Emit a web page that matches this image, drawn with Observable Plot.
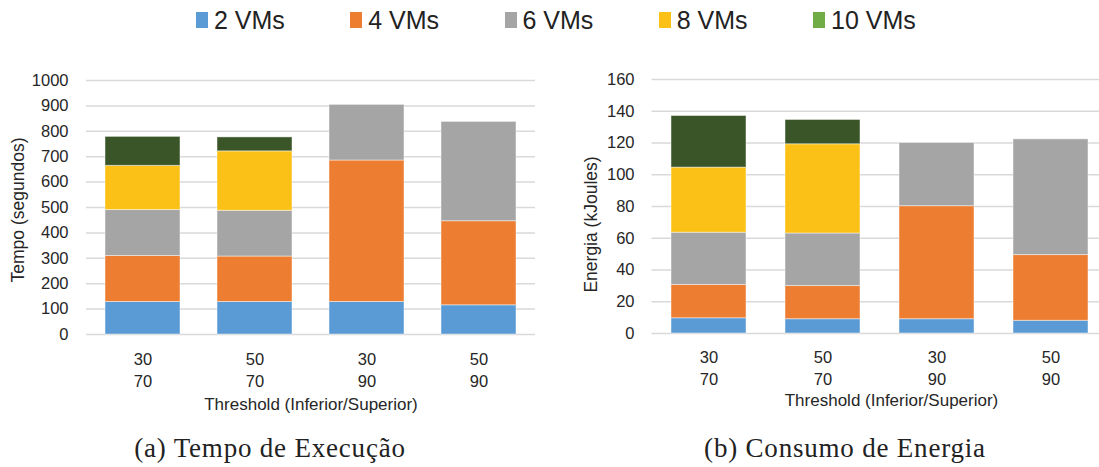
<!DOCTYPE html>
<html><head><meta charset="utf-8">
<script src="https://cdn.jsdelivr.net/npm/d3@7"></script>
<script src="https://cdn.jsdelivr.net/npm/@observablehq/plot@0.6"></script>
<style>
html,body{margin:0;padding:0;background:#fff;width:1099px;height:467px;overflow:hidden;position:relative;font-family:"Liberation Sans",Arial,Helvetica,sans-serif;}
#legend{position:absolute;left:196px;top:5px;display:flex;}
.item{width:154.25px;display:flex;align-items:center;font-size:25px;line-height:30px;color:#222;white-space:nowrap;}
.sw{width:12px;height:16px;margin-right:6px;flex:none;}
.chart{position:absolute;top:60px;width:549px;height:370px;}
.chart svg{overflow:visible;max-width:none !important;width:549px;height:370px;}
.cap{position:absolute;top:433px;font-family:"Liberation Serif","Times New Roman",serif;font-size:27px;line-height:30px;letter-spacing:0.8px;color:#222;transform:translateX(-50%);white-space:nowrap;}
</style></head><body>
<div id="legend"></div>
<div id="left" class="chart" style="left:0px"></div>
<div id="right" class="chart" style="left:560px"></div>
<div class="cap" id="capA" style="left:270px"></div>
<div class="cap" id="capB" style="left:845px"></div>
<script>
// ---- data ----
const thresholds = ["30/70", "50/70", "30/90", "50/90"];
const series = ["2 VMs", "4 VMs", "6 VMs", "8 VMs", "10 VMs"];
const barColors = ["#5b9bd5", "#ed7d31", "#a5a5a6", "#fcc116", "#3a5528"];
const legendColors = ["#5b9bd5", "#ed7d31", "#a5a5a6", "#fcc116", "#70ad47"];

const tempo2VMs  = [128, 128, 128, 115];
const tempo4VMs  = [181, 179, 557, 331];
const tempo6VMs  = [181, 180, 219, 391];
const tempo8VMs  = [174, 234, 0, 0];
const tempo10VMs = [114, 55, 0, 0];

const energia2VMs  = [9.6, 9.0, 9.0, 8.0];
const energia4VMs  = [21.0, 20.9, 71.2, 41.4];
const energia6VMs  = [32.9, 33.1, 39.8, 72.9];
const energia8VMs  = [41.0, 56.2, 0, 0];
const energia10VMs = [32.5, 15.3, 0, 0];

const tempoTicks = [0, 100, 200, 300, 400, 500, 600, 700, 800, 900, 1000];
const energiaTicks = [0, 20, 40, 60, 80, 100, 120, 140, 160];

const yTitleTempo = "Tempo (segundos)";
const yTitleEnergia = "Energia (kJoules)";
const xTitle = "Threshold (Inferior/Superior)";
const captions = ["(a) Tempo de Execução", "(b) Consumo de Energia"];

// ---- build tables ----
function table(cols) {
  const rows = [];
  cols.forEach((vals, si) => vals.forEach((v, ti) => {
    if (v > 0) rows.push({t: thresholds[ti], s: series[si], v});
  }));
  return rows;
}
const tempoData = table([tempo2VMs, tempo4VMs, tempo6VMs, tempo8VMs, tempo10VMs]);
const energiaData = table([energia2VMs, energia4VMs, energia6VMs, energia8VMs, energia10VMs]);

// ---- legend ----
const legend = document.getElementById("legend");
series.forEach((s, i) => {
  const it = document.createElement("div");
  it.className = "item";
  const sw = document.createElement("span");
  sw.className = "sw";
  sw.style.background = legendColors[i];
  it.appendChild(sw);
  it.appendChild(document.createTextNode(s));
  legend.appendChild(it);
});
document.getElementById("capA").textContent = captions[0];
document.getElementById("capB").textContent = captions[1];

function chart(o) {
  return Plot.plot({
    width: o.width, height: 370,
    marginLeft: o.ml, marginRight: o.mr, marginTop: o.mt, marginBottom: o.mb,
    style: {fontFamily: "'Liberation Sans', Arial, sans-serif", fontSize: "16.5px", color: "#262626", background: "transparent", overflow: "visible"},
    x: {domain: thresholds, paddingInner: o.pad, paddingOuter: o.pad / 2, axis: null, label: null},
    y: {domain: o.yDomain, axis: null, label: null},
    color: {domain: series, range: barColors},
    marks: [
      Plot.gridY(o.ticks, {stroke: "#d9d9d9", strokeOpacity: 1, strokeWidth: 1.5}),
      Plot.barY(o.data, {x: "t", y: "v", fill: "s", stroke: "white", strokeOpacity: 0.45, strokeWidth: 1}),
      Plot.axisY(o.ticks, {tickSize: 0, tickPadding: o.yPad, fontSize: 16.5, tickFormat: d => String(d), label: null}),
      Plot.axisX({tickSize: 0, tickPadding: o.xPad, tickFormat: d => d.replace("/", "\n"), lineHeight: 1.33, fontSize: 16.5, label: null}),
      Plot.text([o.yTitle], {frameAnchor: "left", textAnchor: "middle", lineAnchor: "middle", rotate: -90, dx: o.ytDx, dy: o.ytDy, fontSize: 17.5}),
      Plot.text([xTitle], {frameAnchor: "bottom", lineAnchor: "middle", dx: o.xtDx, dy: o.xtDy, fontSize: 17})
    ]
  });
}

document.getElementById("left").appendChild(chart({
  data: tempoData, ticks: tempoTicks, yDomain: [0, 1000],
  width: 549, ml: 86, mr: 14, mt: 20, mb: 96, pad: 0.33,
  yPad: 18, xPad: 15, yTitle: yTitleTempo, ytDx: -68.5, ytDy: 2.5, xtDx: 0, xtDy: 70
}));
document.getElementById("right").appendChild(chart({
  data: energiaData, ticks: energiaTicks, yDomain: [0, 160],
  width: 549, ml: 91.5, mr: 0.5, mt: 19, mb: 97, pad: 0.34,
  yPad: 17.5, xPad: 14, yTitle: yTitleEnergia, ytDx: -60.5, ytDy: 18, xtDx: 11, xtDy: 67
}));
</script>
</body></html>
